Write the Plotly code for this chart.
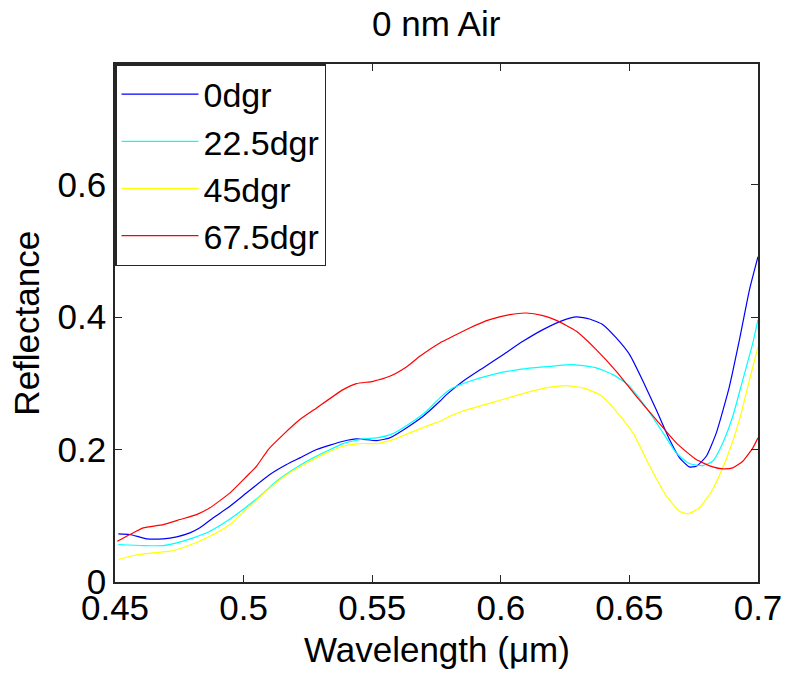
import plotly.graph_objects as go

# Wavelength (um) and reflectance values
wl_0 = [0.4513, 0.4558, 0.4623, 0.4688, 0.4740, 0.4791, 0.4830, 0.4882, 0.4947, 0.5012,
        0.5102, 0.5167, 0.5219, 0.5284, 0.5387, 0.5439, 0.5517, 0.5568, 0.5633, 0.5698,
        0.5763, 0.5789, 0.5853, 0.5931, 0.6009, 0.6086, 0.6164, 0.6242, 0.6294, 0.6345,
        0.6397, 0.6449, 0.6501, 0.6553, 0.6604, 0.6656, 0.6695, 0.6733, 0.6760, 0.6799,
        0.6838, 0.6889, 0.6928, 0.6967, 0.7000]
r_0 = [0.0727, 0.0717, 0.0652, 0.0652, 0.0682, 0.0742, 0.0818, 0.0969, 0.1144, 0.1346,
       0.1622, 0.1773, 0.1874, 0.2000, 0.2125, 0.2160, 0.2135, 0.2175, 0.2326, 0.2502,
       0.2728, 0.2829, 0.3030, 0.3232, 0.3432, 0.3633, 0.3810, 0.3950, 0.4001, 0.3971,
       0.3885, 0.3684, 0.3432, 0.3030, 0.2603, 0.2150, 0.1874, 0.1738, 0.1747, 0.1898,
       0.2251, 0.2954, 0.3659, 0.4413, 0.4910]

wl_22 = [0.4513, 0.4610, 0.4688, 0.4740, 0.4804, 0.4869, 0.4934, 0.4998, 0.5063, 0.5128,
         0.5193, 0.5258, 0.5322, 0.5387, 0.5465, 0.5517, 0.5581, 0.5646, 0.5711, 0.5763,
         0.5801, 0.5879, 0.5983, 0.6086, 0.6190, 0.6281, 0.6371, 0.6436, 0.6501, 0.6566,
         0.6631, 0.6682, 0.6733, 0.6785, 0.6824, 0.6863, 0.6902, 0.6941, 0.6980, 0.7000]
r_22 = [0.0566, 0.0550, 0.0550, 0.0591, 0.0667, 0.0767, 0.0917, 0.1094, 0.1295, 0.1521,
        0.1697, 0.1848, 0.1973, 0.2090, 0.2160, 0.2175, 0.2240, 0.2391, 0.2577, 0.2779,
        0.2904, 0.3030, 0.3146, 0.3217, 0.3256, 0.3282, 0.3232, 0.3131, 0.2954, 0.2628,
        0.2251, 0.1949, 0.1788, 0.1758, 0.1823, 0.2100, 0.2502, 0.3055, 0.3609, 0.3960]

wl_45 = [0.4513, 0.4571, 0.4649, 0.4714, 0.4779, 0.4869, 0.4947, 0.5024, 0.5102, 0.5179,
         0.5258, 0.5322, 0.5387, 0.5452, 0.5517, 0.5581, 0.5646, 0.5711, 0.5763, 0.5801,
         0.5879, 0.5983, 0.6086, 0.6177, 0.6255, 0.6319, 0.6384, 0.6449, 0.6514, 0.6579,
         0.6644, 0.6695, 0.6727, 0.6772, 0.6824, 0.6876, 0.6928, 0.6967, 0.7000]
r_45 = [0.0339, 0.0400, 0.0440, 0.0465, 0.0540, 0.0691, 0.0868, 0.1144, 0.1421, 0.1648,
        0.1823, 0.1949, 0.2049, 0.2090, 0.2090, 0.2150, 0.2251, 0.2351, 0.2426, 0.2502,
        0.2613, 0.2728, 0.2844, 0.2930, 0.2965, 0.2930, 0.2829, 0.2577, 0.2251, 0.1747,
        0.1295, 0.1068, 0.1029, 0.1120, 0.1396, 0.1848, 0.2452, 0.3055, 0.3550]

wl_67 = [0.4509, 0.4558, 0.4610, 0.4688, 0.4753, 0.4817, 0.4869, 0.4947, 0.5012, 0.5050,
         0.5096, 0.5154, 0.5219, 0.5284, 0.5387, 0.5439, 0.5503, 0.5568, 0.5633, 0.5685,
         0.5763, 0.5801, 0.5879, 0.5957, 0.6035, 0.6099, 0.6164, 0.6216, 0.6294, 0.6371,
         0.6449, 0.6527, 0.6604, 0.6682, 0.6760, 0.6824, 0.6863, 0.6902, 0.6941, 0.6980,
         0.7000]
r_67 = [0.0616, 0.0717, 0.0817, 0.0867, 0.0943, 0.1018, 0.1120, 0.1346, 0.1596, 0.1747,
        0.2000, 0.2225, 0.2452, 0.2628, 0.2904, 0.2995, 0.3030, 0.3105, 0.3247, 0.3407,
        0.3609, 0.3684, 0.3835, 0.3960, 0.4036, 0.4061, 0.4021, 0.3950, 0.3784, 0.3508,
        0.3180, 0.2803, 0.2452, 0.2100, 0.1848, 0.1738, 0.1708, 0.1723, 0.1823, 0.2025,
        0.2176]

series_names = ["0dgr", "22.5dgr", "45dgr", "67.5dgr"]
series_x = [wl_0, wl_22, wl_45, wl_67]
series_y = [r_0, r_22, r_45, r_67]
series_colors = ["#0000ff", "#00ffff", "#ffff00", "#ff0000"]

x_ticks = [0.45, 0.5, 0.55, 0.6, 0.65, 0.7]
x_ticktext = ["0.45", "0.5", "0.55", "0.6", "0.65", "0.7"]
y_ticks = [0, 0.2, 0.4, 0.6]
y_ticktext = ["0", "0.2", "0.4", "0.6"]

FONT = "Liberation Sans, Arial, sans-serif"
TXT = dict(family=FONT, size=35, color="black")

fig = go.Figure()
for name, xs, ys, c in zip(series_names, series_x, series_y, series_colors):
    fig.add_trace(go.Scatter(x=xs, y=ys, mode="lines", name=name,
                             line=dict(color=c, width=1.2, shape="spline", smoothing=0.5)))

axis_common = dict(showline=True, linecolor="#262626", linewidth=1.5, mirror="allticks",
                   ticks="inside", ticklen=7, tickcolor="#262626", showgrid=False,
                   zeroline=False, automargin=False, tickfont=TXT)

fig.update_layout(
    width=786, height=675,
    margin=dict(l=115, r=28, t=64, b=93, autoexpand=False),
    paper_bgcolor="white", plot_bgcolor="white",
    xaxis=dict(range=[0.45, 0.7], tickvals=x_ticks, ticktext=x_ticktext,
               ticklabelstandoff=-6, **axis_common),
    yaxis=dict(range=[0, 0.782], tickvals=y_ticks, ticktext=y_ticktext,
               **axis_common),
    legend=dict(x=0, y=1, xanchor="left", yanchor="top", bgcolor="white",
                bordercolor="#262626", borderwidth=1.5,
                font=dict(family=FONT, size=34, color="black"),
                itemwidth=77, tracegroupgap=0),
    showlegend=True,
    annotations=[
        dict(text="0 nm Air", xref="paper", yref="paper", x=0.5, y=1.079,
             xanchor="center", yanchor="middle", showarrow=False, font=TXT),
        dict(text="Wavelength (μm)", xref="paper", yref="paper", x=0.5, y=-0.130,
             xanchor="center", yanchor="middle", showarrow=False, font=TXT),
        dict(text="Reflectance", xref="paper", yref="paper", x=-0.137, y=0.5005,
             xanchor="center", yanchor="middle", showarrow=False, textangle=-90, font=TXT),
    ],
)

fig.write_html("out.html", config={"displayModeBar": False},
               post_script="document.body.style.margin='0';")
